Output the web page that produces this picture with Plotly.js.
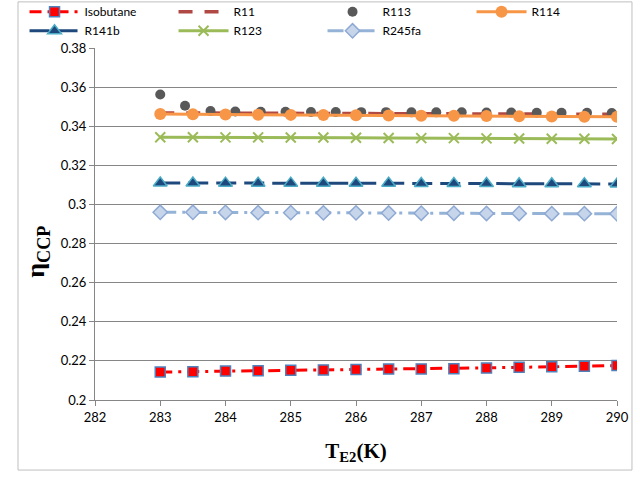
<!DOCTYPE html>
<html>
<head>
<meta charset="utf-8">
<script src="https://cdn.plot.ly/plotly-3.0.1.min.js"></script>
<style>html,body{margin:0;padding:0;background:#fff;}#chart{width:640px;height:485px;}</style>
</head>
<body>
<div id="chart"></div>
<script>
// Temperature grid (K)
const temps = [283, 283.5, 284, 284.5, 285, 285.5, 286, 286.5, 287, 287.5, 288, 288.5, 289, 289.5, 290];
// Series values
const isobutane = [0.2143, 0.2145, 0.2148, 0.2150, 0.2152, 0.2154, 0.2156, 0.2158, 0.2159, 0.2160, 0.2163, 0.2167, 0.2170, 0.2172, 0.2176];
const r11 = [0.3468, 0.3467, 0.3467, 0.3466, 0.3466, 0.3465, 0.3465, 0.3464, 0.3464, 0.3463, 0.3463, 0.3462, 0.3462, 0.3461, 0.3461];
const r114 = [0.3462, 0.3461, 0.3460, 0.3459, 0.3458, 0.3457, 0.3456, 0.3455, 0.3454, 0.3453, 0.3452, 0.3451, 0.3450, 0.3449, 0.3448];
const r141b = [0.3110, 0.3110, 0.3109, 0.3109, 0.3109, 0.3108, 0.3108, 0.3108, 0.3107, 0.3107, 0.3107, 0.3106, 0.3106, 0.3106, 0.3105];
const r123 = [0.3344, 0.3344, 0.3343, 0.3343, 0.3342, 0.3342, 0.3341, 0.3340, 0.3339, 0.3339, 0.3338, 0.3337, 0.3336, 0.3336, 0.3335];
const r245fa = [0.2960, 0.2960, 0.2959, 0.2958, 0.2958, 0.2957, 0.2957, 0.2956, 0.2955, 0.2955, 0.2954, 0.2954, 0.2953, 0.2953, 0.2952];
// R113 dots (own positions)
const r113T = [283.0, 283.38, 283.77, 284.15, 284.54, 284.92, 285.31, 285.69, 286.08, 286.46, 286.85, 287.23, 287.62, 288.0, 288.38, 288.77, 289.15, 289.54, 289.92];
const r113 = [0.3562, 0.3505, 0.3478, 0.3475, 0.3474, 0.3474, 0.3473, 0.3473, 0.3472, 0.3472, 0.3471, 0.3471, 0.3471, 0.3470, 0.3470, 0.3469, 0.3469, 0.3469, 0.3468];
// Axis ticks
const xTicks = [282, 283, 284, 285, 286, 287, 288, 289, 290];
const yTicks = [0.2, 0.22, 0.24, 0.26, 0.28, 0.3, 0.32, 0.34, 0.36, 0.38];

const traces = [
  {name: 'Isobutane', x: temps, y: isobutane, mode: 'lines+markers',
   line: {color: '#FF0000', width: 3, dash: '12px,6px,3px,6px'},
   marker: {symbol: 'square', size: 10, color: '#FF0000', line: {color: '#4F81BD', width: 1.5}}},
  {name: 'R11', x: temps, y: r11, mode: 'lines',
   line: {color: '#B04844', width: 3.5, dash: '14px,12px'}},
  {name: 'R113', x: r113T, y: r113, mode: 'markers',
   marker: {symbol: 'circle', size: 10, color: '#595959'}},
  {name: 'R114', x: temps, y: r114, mode: 'lines+markers',
   line: {color: '#F79646', width: 3},
   marker: {symbol: 'circle', size: 12, color: '#F79646'}},
  {name: 'R141b', x: temps, y: r141b, mode: 'lines+markers',
   line: {color: '#1F497D', width: 3, dash: '20px,8px'},
   marker: {symbol: 'triangle-up', size: 12, color: '#1F497D', line: {color: '#4BACC6', width: 1.5}}},
  {name: 'R123', x: temps, y: r123, mode: 'lines+markers',
   line: {color: '#9BBB59', width: 3},
   marker: {symbol: 'x-thin-open', size: 10, color: '#9BBB59', line: {color: '#9BBB59', width: 2}}},
  {name: 'R245fa', x: temps, y: r245fa, mode: 'lines+markers',
   line: {color: '#95B3D7', width: 3, dash: '16px,6px,3px,6px'},
   marker: {symbol: 'diamond', size: 11, color: '#C6D5EA', line: {color: '#8EA9D4', width: 1.5}}}
];

const serif = '"Liberation Serif", "Times New Roman", serif';
const layout = {
  width: 640, height: 485,
  margin: {l: 95, r: 23, t: 48, b: 85, autoexpand: false},
  paper_bgcolor: '#ffffff', plot_bgcolor: '#ffffff',
  font: {family: 'Lato, "Open Sans", sans-serif', size: 13, color: '#000'},
  showlegend: true,
  legend: {orientation: 'h', x: -0.135, xanchor: 'left', y: 1.144, yanchor: 'top',
           entrywidth: 84, entrywidthmode: 'pixels', itemwidth: 50, font: {size: 12},
           bgcolor: 'rgba(0,0,0,0)', tracegroupgap: 0},
  xaxis: {range: [282, 290], tickvals: xTicks, ticktext: xTicks.map(String),
          showgrid: false, zeroline: false, showline: true, linecolor: '#868686', linewidth: 1,
          ticks: 'outside', ticklen: 5, tickcolor: '#868686',
          title: {text: '<b>T<sub>E2</sub>(K)</b>', font: {family: serif, size: 21}, standoff: 19}},
  yaxis: {range: [0.2, 0.38], tickvals: yTicks, ticktext: yTicks.map(String),
          showgrid: true, gridcolor: '#868686', gridwidth: 1, zeroline: false,
          showline: true, linecolor: '#868686', linewidth: 1,
          ticks: 'outside', ticklen: 5, tickcolor: '#868686'},
  annotations: [{text: '<b>η<sub>CCP</sub></b>', textangle: -90, xref: 'paper', yref: 'paper',
                 x: -0.11, y: 0.42, xanchor: 'center', yanchor: 'middle', showarrow: false,
                 font: {family: serif, size: 26, color: '#000'}}],
  shapes: [{type: 'rect', xref: 'paper', yref: 'paper', x0: -0.1475, x1: 1.0287, y0: -0.199, y1: 1.131,
            line: {color: '#BFBFBF', width: 1}, fillcolor: 'rgba(0,0,0,0)', layer: 'below'}]
};

Plotly.newPlot('chart', traces, layout, {displayModeBar: false, staticPlot: true});
</script>
</body>
</html>
